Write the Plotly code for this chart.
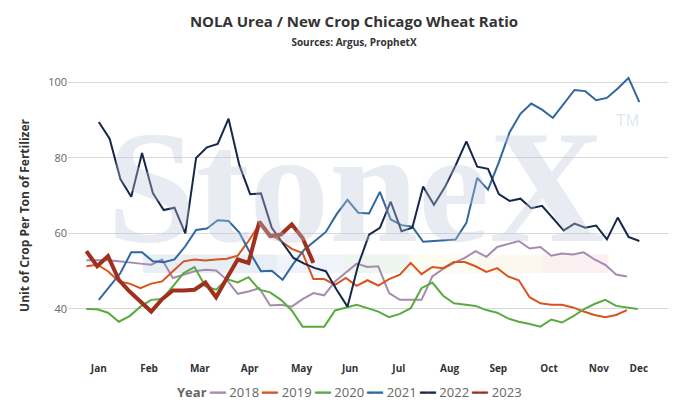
import plotly.graph_objects as go

y2018 = [52.9,52.9,52.9,52.6,52.4,52,51.7,53.1,48.2,49.1,50,50.4,50.2,47.7,44,44.6,45.5,40.9,41.1,40.6,42.6,44.2,43.6,47.3,49.7,52,51.1,51.3,44.2,42.4,42.4,42.4,48.6,50.6,52.2,53.5,55.3,53.8,56.4,57.1,58,56,56.4,54.1,54.7,54.4,55,53.1,51.7,49.1,48.6]
y2019 = [51.3,51.7,50,47.3,46.7,45.5,46.7,47.3,50,52.6,53.1,52.8,53.1,53.3,54.1,58,62.4,59.7,58,55.9,54.8,47.9,47.9,46.4,48.2,46.1,47.6,46.2,47.9,49.1,52.2,49.2,51.1,50.8,52.4,52.4,51.3,49.8,50.8,48.6,47.6,43.1,41.5,41.1,41.1,40.4,39.3,38.4,37.8,38.4,39.7]
y2020 = [40,39.9,39,36.6,38.1,40.6,42.4,42.6,46,49.5,51.1,46,45.1,47.9,47,48.4,45.1,44.4,42.4,39.6,35.3,35.3,35.3,39.6,40.4,41.1,40.2,39.3,37.8,38.7,40.2,45.5,47,43.5,41.5,41.1,40.8,39.7,39,37.5,36.6,36,35.3,37.2,36.4,38,39.9,41.3,42.4,40.8,40.4,40]
y2021 = [42.4,46,49.5,55,55,52.6,52.4,53.1,56.6,60.9,61.3,63.5,63.3,60.2,54.8,50,50.1,47.7,52,55.7,58,60.4,65.1,68.9,65.5,65.3,71,63.7,62.2,61.8,57.8,58,58.1,58.4,62.8,74.7,71.6,78.8,86.8,91.7,94.4,92.8,90.6,94.4,98,97.7,95.3,95.9,98.4,101.2,94.8]
y2022 = [89.5,85.1,74.4,69.7,81.3,70.7,66.2,66.8,60,80,82.8,83.7,90.4,78.1,70.4,70.6,61.5,57.5,53.5,52,50.8,50,45.1,40.6,51.7,59.7,61.5,68.4,60.6,61.5,72.4,67.6,72.2,78,84.4,77.7,77.1,70.4,68.6,69.2,66.7,67.3,63.9,60.8,62.6,61.5,62.1,58.4,64.2,59.1,58]
y2023 = [55.3,51.3,54,47.7,44.6,42,39.3,42.6,44.9,44.9,45.1,47,43.1,48.2,53.1,52.2,63.1,59.3,59.7,62.4,58.8,52.2]

months = ["Jan","Feb","Mar","Apr","May","Jun","Jul","Aug","Sep","Oct","Nov","Dec"]
month_pos = [1.15,5.8,10.5,15.1,19.9,24.4,28.9,33.6,38.1,42.8,47.4,51.1]

series = [
    ("2018", y2018, 0, "#a58bb0", 2),
    ("2019", y2019, 0, "#d9531e", 2),
    ("2020", y2020, 0, "#5aab3e", 2),
    ("2021", y2021, 1.15, "#2f67a0", 2),
    ("2022", y2022, 1.15, "#16284a", 2),
    ("2023", y2023, 0, "#a0301e", 4),
]

fig = go.Figure()
for name, ys, x0, col, w in series:
    fig.add_trace(go.Scatter(x=[x0 + i for i in range(len(ys))], y=ys, mode="lines",
                             name=name, line=dict(color=col, width=w), showlegend=False))

legend_text = "<b>Year</b> " + " ".join(
    "<span style='color:%s'>━━</span> %s" % (col, name) for name, _, _, col, _ in series)

bands = [(5.25,17.6,"rgba(190,205,225,0.35)"),(17.6,23.8,"rgba(205,220,240,0.3)"),
         (23.8,29.9,"rgba(200,225,205,0.35)"),(29.9,36.1,"rgba(245,245,215,0.35)"),
         (36.1,42.2,"rgba(250,235,210,0.35)"),(42.2,48.3,"rgba(240,210,215,0.35)")]
shapes = [dict(type="rect", xref="x", yref="y", x0=a, x1=b, y0=49.5, y1=54.4,
               fillcolor=c, line_width=0, layer="below") for a, b, c in bands]

fig.update_layout(
    width=692, height=412, plot_bgcolor="white", paper_bgcolor="white",
    margin=dict(l=60, r=32, t=65, b=62, autoexpand=False),
    font=dict(family="Open Sans", size=11, color="#333"),
    title=dict(text="<b>NOLA Urea / New Crop Chicago Wheat Ratio</b><br><span style='font-size:10px'><b>Sources: Argus, ProphetX</b></span>",
               x=0.5, xanchor="center", y=0.955, yanchor="top", font=dict(size=15, color="#333")),
    shapes=shapes,
    annotations=[
        dict(text="<b>StoneX</b>", x=0.48, y=0.6, xref="paper", yref="paper", showarrow=False,
             font=dict(family="Liberation Serif", size=160, color="rgba(190,200,218,0.35)")),
        dict(text="TM", x=0.955, y=0.87, xref="paper", yref="paper", showarrow=False,
             font=dict(family="Liberation Sans", size=16, color="rgba(190,200,218,0.45)")),
        dict(text=legend_text, xref="x", x=(341-78.5)/10.8, yref="paper", y=-0.118,
             yanchor="middle", showarrow=False, font=dict(size=13, color="#666")),
    ],
)
fig.update_xaxes(range=[-1.7, 53.8], tickvals=month_pos, ticktext=["<b>%s</b>" % m for m in months],
                 showgrid=False, zeroline=False, ticks="outside", ticklen=1, tickcolor="white",
                 tickfont=dict(size=10, color="#333"))
fig.update_yaxes(range=[27, 102.5], tickvals=[40,60,80,100], showgrid=True, gridcolor="#d8d8d8",
                 zeroline=False, tickfont=dict(size=11, color="#666"),
                 title=dict(text="<b>Unit of Crop Per Ton of Fertilizer</b>", font=dict(size=12, color="#333")))
fig.write_html("out.html")
